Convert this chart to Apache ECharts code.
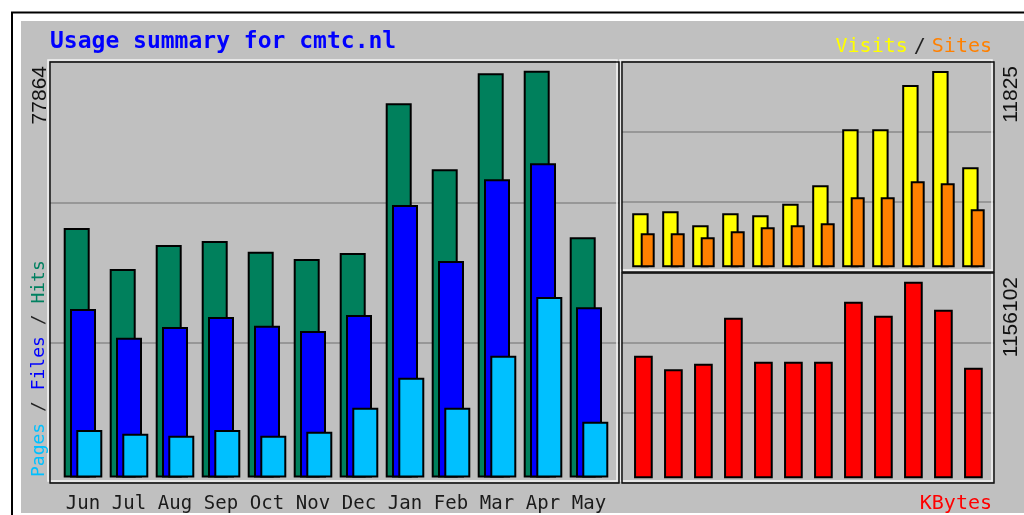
<!DOCTYPE html>
<html><head><meta charset="utf-8">
<script src="https://cdn.jsdelivr.net/npm/echarts/dist/echarts.min.js"></script>
<style>html,body{margin:0;padding:0;background:#fff}#c{width:1024px;height:515px}</style>
</head><body><div id="c"></div>
<script>
const months = ['Jun','Jul','Aug','Sep','Oct','Nov','Dec','Jan','Feb','Mar','Apr','May'];
const hits   = [47754,39907,44501,45266,43218,41821,42969,71622,58989,77364,77864,45974];
const files  = [32251,26758,28806,30720,29055,28040,31103,52157,41438,57075,60138,32576];
const pages  = [9092,8383,8001,9092,8001,8766,13360,19102,13360,23313,34548,10680];
const visits = [3253,3373,2530,3253,3132,3831,4940,8313,8313,10982,11825,6024];
const sites  = [2048,2048,1807,2169,2410,2530,2651,4217,4217,5181,5060,3494];
const kbytes = [720900,640900,673850,944300,685600,685600,685600,1038400,956100,1156102,991400,650300];
const titleText = 'Usage summary for cmtc.nl';

const maxHits = Math.max(...hits), maxVisits = Math.max(...visits), maxKB = Math.max(...kbytes);
const leftMax = maxHits * 415.5 / 406.8;
const visMax = maxVisits * 205.3 / 196.3;
const kbMax = maxKB * 205.3 / 196.6;

const MONO = '"DejaVu Sans Mono", monospace';
const SANS = '"Liberation Sans", Arial, sans-serif';
const BORDER = {borderColor:'#000', borderWidth:2};
const SH = {textShadowColor:'rgba(60,60,60,0.7)', textShadowOffsetX:1, textShadowOffsetY:1, textShadowBlur:0};

const grids = [
  {left:50, top:62, width:569, height:421},      // 0 frame left
  {left:60, top:62, width:552, height:415.5},    // 1 left bars
  {left:622, top:62, width:372, height:210},     // 2 frame top-right
  {left:625.4, top:62, width:360, height:205.3}, // 3 visits
  {left:632.7, top:62, width:360, height:205.3}, // 4 sites
  {left:622, top:273, width:372, height:210},    // 5 frame bottom-right
  {left:628.4, top:273, width:360, height:205.3} // 6 kbytes
].map(g => Object.assign({containLabel:false, outerBoundsMode:'none'}, g));

function frameX(i){return {gridIndex:i, type:'value', min:0, max:1, show:false};}
function frameY(i){return {gridIndex:i, type:'value', min:0, max:3, interval:1,
  axisLabel:{show:false}, axisLine:{show:false}, axisTick:{show:false},
  splitLine:{show:true, lineStyle:{color:'#8a8a8a', width:1.5}}};}
function catX(i, showLabels){return {gridIndex:i, type:'category', data:months, boundaryGap:true,
  axisLine:{show:false}, axisTick:{show:false}, splitLine:{show:false},
  axisLabel:{show:showLabels, interval:0, margin:17, color:'#1a1a1a', fontFamily:MONO, fontSize:19}};}
function valY(i, max){return {gridIndex:i, type:'value', min:0, max:max, show:false, splitLine:{show:false}};}

function frameRect(x,y,w,h){
  return [
    {type:'rect', z:50, silent:true, shape:{x:x-2, y:y-2, width:w, height:h}, style:{fill:'none', stroke:'#f4f4f4', lineWidth:1.5}},
    {type:'rect', z:51, silent:true, shape:{x:x, y:y, width:w, height:h}, style:{fill:'none', stroke:'#111', lineWidth:1.5}}
  ];
}

const option = {
  animation:false,
  backgroundColor:'#fff',
  grid:grids,
  xAxis:[frameX(0), catX(1,true), frameX(2), catX(3,false), catX(4,false), frameX(5), catX(6,false)],
  yAxis:[frameY(0), valY(1,leftMax), frameY(2), valY(3,visMax), valY(4,visMax), frameY(5), valY(6,kbMax)],
  series:[
    {name:'Hits', type:'bar', xAxisIndex:1, yAxisIndex:1, data:hits, barWidth:26, barGap:'-75.8%', itemStyle:Object.assign({color:'#00805c'},BORDER)},
    {name:'Files', type:'bar', xAxisIndex:1, yAxisIndex:1, data:files, barWidth:26, barGap:'-75.8%', itemStyle:Object.assign({color:'#0000ff'},BORDER)},
    {name:'Pages', type:'bar', xAxisIndex:1, yAxisIndex:1, data:pages, barWidth:26, barGap:'-75.8%', itemStyle:Object.assign({color:'#00c0ff'},BORDER)},
    {name:'Visits', type:'bar', xAxisIndex:3, yAxisIndex:3, data:visits, barWidth:16.4, itemStyle:Object.assign({color:'#ffff00'},BORDER)},
    {name:'Sites', type:'bar', xAxisIndex:4, yAxisIndex:4, data:sites, barWidth:14, itemStyle:Object.assign({color:'#ff8000'},BORDER)},
    {name:'KBytes', type:'bar', xAxisIndex:6, yAxisIndex:6, data:kbytes, barWidth:18.7, itemStyle:Object.assign({color:'#ff0000'},BORDER)}
  ],
  graphic:[
    {type:'rect', z:-1, silent:true, shape:{x:21, y:21, width:1010, height:492}, style:{fill:'#c0c0c0'}},
    {type:'line', z:60, silent:true, shape:{x1:11, y1:12.5, x2:1030, y2:12.5}, style:{stroke:'#000', lineWidth:2}},
    {type:'line', z:60, silent:true, shape:{x1:12, y1:12, x2:12, y2:520}, style:{stroke:'#000', lineWidth:2}},
    ...frameRect(50,62,569,421),
    ...frameRect(622,62,372,210),
    ...frameRect(622,273,372,210),
    {type:'text', z:70, x:50, y:42, style:{text:titleText, font:'bold 23px '+MONO, fill:'#0000ff', align:'left', verticalAlign:'middle'}},
    {type:'text', z:70, x:992, y:47, style:Object.assign({text:'{a|Visits}{b|/}{c|Sites}', font:'20px '+MONO, align:'right', verticalAlign:'middle',
      rich:{a:{fill:'#ffff00', font:'20px '+MONO}, b:{fill:'#222', font:'20px '+MONO, padding:[0,6,0,6]}, c:{fill:'#ff8000', font:'20px '+MONO}}},SH)},
    {type:'text', z:70, x:992, y:504, style:Object.assign({text:'KBytes', font:'20px '+MONO, fill:'#ff0000', align:'right', verticalAlign:'middle'},SH)},
    {type:'text', z:70, x:39, y:477, rotation:Math.PI/2, style:Object.assign({text:'{p|Pages}{s| / }{f|Files}{s| / }{h|Hits}', font:'18px '+MONO, align:'left', verticalAlign:'middle',
      rich:{p:{fill:'#00c0ff', font:'18px '+MONO}, s:{fill:'#222', font:'18px '+MONO}, f:{fill:'#0000ff', font:'18px '+MONO}, h:{fill:'#008060', font:'18px '+MONO}}},SH)},
    {type:'text', z:70, x:40, y:66, rotation:Math.PI/2, style:{text:String(maxHits), font:'21px '+SANS, fill:'#111', align:'right', verticalAlign:'middle'}},
    {type:'text', z:70, x:1011, y:66, rotation:Math.PI/2, style:{text:String(maxVisits), font:'21px '+SANS, fill:'#111', align:'right', verticalAlign:'middle'}},
    {type:'text', z:70, x:1011, y:277, rotation:Math.PI/2, style:{text:String(maxKB), font:'21px '+SANS, fill:'#111', align:'right', verticalAlign:'middle'}}
  ]
};
const chart = echarts.init(document.getElementById('c'), null, {renderer:'canvas'});
chart.setOption(option);
</script>
</body></html>
